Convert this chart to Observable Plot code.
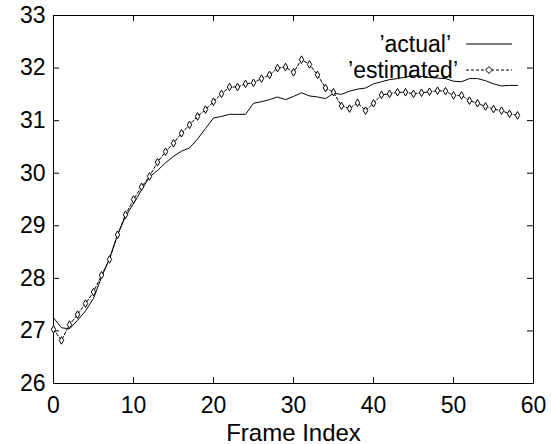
<!DOCTYPE html>
<html>
<head>
<meta charset="utf-8">
<script src="https://cdn.jsdelivr.net/npm/d3@7"></script>
<script src="https://cdn.jsdelivr.net/npm/@observablehq/plot@0.6"></script>
<style>
  body { margin: 0; background: white; }
  #wrap { position: relative; width: 551px; height: 444px; font-family: "Liberation Sans", Arial, sans-serif; }
  #legend { position: absolute; left: 0; top: 0; }
</style>
</head>
<body>
<div id="wrap"></div>
<script>
const actual = [27.25, 27.06, 27.04, 27.2, 27.38, 27.62, 28.02, 28.38, 28.82, 29.18,
  29.42, 29.68, 29.93, 30.05, 30.2, 30.32, 30.42, 30.48, 30.65, 30.85,
  31.05, 31.08, 31.12, 31.12, 31.12, 31.33, 31.36, 31.4, 31.45, 31.4,
  31.46, 31.53, 31.47, 31.45, 31.42, 31.52, 31.5, 31.56, 31.6, 31.62,
  31.7, 31.74, 31.78, 31.8, 31.83, 31.86, 31.84, 31.82, 31.81, 31.8,
  31.75, 31.74, 31.8, 31.8, 31.76, 31.7, 31.66, 31.67, 31.67];
const estimated = [27.03, 26.82, 27.12, 27.31, 27.52, 27.74, 28.06, 28.36, 28.83, 29.21,
  29.5, 29.74, 29.94, 30.21, 30.41, 30.57, 30.76, 30.92, 31.08, 31.21,
  31.36, 31.51, 31.64, 31.64, 31.7, 31.72, 31.8, 31.87, 32.0, 32.02,
  31.92, 32.16, 32.07, 31.87, 31.62, 31.54, 31.28, 31.23, 31.34, 31.19,
  31.33, 31.49, 31.51, 31.54, 31.54, 31.51, 31.53, 31.55, 31.57, 31.56,
  31.48, 31.48, 31.38, 31.33, 31.27, 31.22, 31.19, 31.13, 31.1];
const xTicks = [0, 10, 20, 30, 40, 50, 60];
const yTicks = [26, 27, 28, 29, 30, 31, 32, 33];
const seriesNames = ["’actual’", "’estimated’"];
const xLabel = "Frame Index";

const W = 551, H = 444;
const mL = 53, mR = 18, mT = 15, mB = 61;
const innerW = W - mL - mR, innerH = H - mT - mB;
const tick = 6;
const fs = 23;

const actualData = actual.map((v, i) => ({i, v}));
const estData = estimated.map((v, i) => ({i, v}));

const chart = Plot.plot({
  width: W, height: H,
  marginLeft: mL, marginRight: mR, marginTop: mT, marginBottom: mB,
  style: {fontFamily: "'Liberation Sans', Arial, sans-serif", fontSize: fs + "px", color: "black", background: "white"},
  x: {domain: [0, 60]},
  y: {domain: [26, 33]},
  marks: [
    Plot.frame({stroke: "black", strokeWidth: 1}),
    Plot.tickX(xTicks, {x: d => d, insetTop: innerH - tick, stroke: "black"}),
    Plot.tickX(xTicks, {x: d => d, insetBottom: innerH - tick, stroke: "black"}),
    Plot.tickY(yTicks, {y: d => d, insetRight: innerW - tick, stroke: "black"}),
    Plot.tickY(yTicks, {y: d => d, insetLeft: innerW - tick, stroke: "black"}),
    Plot.axisX(xTicks, {tickSize: 0, tickPadding: 13, label: null, fontSize: fs, tickFormat: d3.format("d")}),
    Plot.axisY(yTicks, {tickSize: 0, tickPadding: 8, label: null, fontSize: fs, tickFormat: d3.format("d")}),
    Plot.text([xLabel], {frameAnchor: "bottom", dy: 57, fontSize: 24, fill: "black"}),
    Plot.line(actualData, {x: "i", y: "v", stroke: "black", strokeWidth: 1}),
    Plot.line(estData, {x: "i", y: "v", stroke: "black", strokeWidth: 1, strokeDasharray: "3,2"}),
    Plot.dot(estData, {x: "i", y: "v", symbol: "diamond", r: 2.3, fill: "white", stroke: "black", strokeWidth: 1})
  ]
});
const wrap = document.getElementById("wrap");
wrap.appendChild(chart);

// Legend overlay (gnuplot-style key)
const leg = d3.select(wrap).append("svg").attr("id", "legend")
  .attr("width", W).attr("height", H)
  .style("font-family", "'Liberation Sans', Arial, sans-serif").style("font-size", fs + "px");
const rows = [{y: 44}, {y: 70}];
seriesNames.forEach((name, k) => {
  const y = rows[k].y;
  leg.append("text").attr("x", k === 0 ? 451 : 458).attr("y", y).attr("dy", "0.36em")
    .attr("text-anchor", "end").attr("fill", "black").text(name);
  leg.append("line").attr("x1", 466).attr("x2", 512).attr("y1", y).attr("y2", y)
    .attr("stroke", "black").attr("stroke-width", 1)
    .attr("stroke-dasharray", k === 1 ? "3,2" : null);
  if (k === 1) {
    leg.append("path").attr("d", d3.symbol(d3.symbolDiamond2, 30)())
      .attr("transform", `translate(489,${y})`).attr("fill", "white").attr("stroke", "black");
  }
});
</script>
</body>
</html>
